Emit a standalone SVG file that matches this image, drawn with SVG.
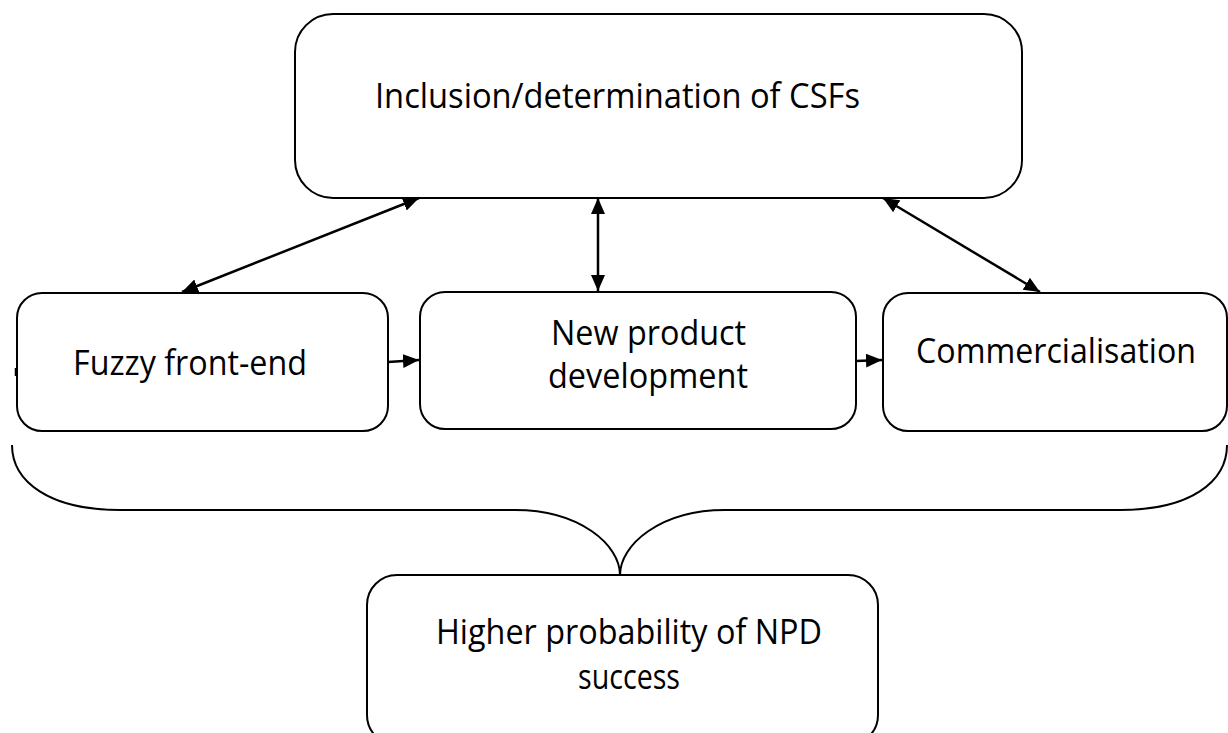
<svg xmlns="http://www.w3.org/2000/svg" width="1228" height="733" viewBox="0 0 1228 733">
  <style>
    .box { fill: #ffffff; stroke: #000000; stroke-width: 2; }
    .lbl { font-family: "Open Sans", "Liberation Sans", sans-serif; font-size: 35px; fill: #000000; text-anchor: middle; }
    .conn { fill: none; stroke: #000000; stroke-width: 2.5; }
    .brace { fill: none; stroke: #000000; stroke-width: 2; }
  </style>
  <defs>
    <marker id="arr" markerWidth="18" markerHeight="16" refX="16" refY="7" orient="auto-start-reverse" markerUnits="userSpaceOnUse">
      <path d="M0,0 L16,7 L0,14 z" fill="#000000"/>
    </marker>
  </defs>
  <rect width="1228" height="733" fill="#ffffff"/>

  <g id="node-csfs">
    <rect class="box" x="295" y="14" width="727" height="184" rx="38" ry="38"/>
    <text class="lbl" x="617.5" y="108" textLength="485" lengthAdjust="spacingAndGlyphs">Inclusion/determination of CSFs</text>
  </g>

  <g id="node-fuzzy">
    <rect class="box" x="17" y="293" width="371" height="138" rx="25" ry="25"/>
    <text class="lbl" x="190" y="375" textLength="234" lengthAdjust="spacingAndGlyphs">Fuzzy front-end</text>
  </g>

  <g id="node-npd">
    <rect class="box" x="420" y="292" width="436" height="137" rx="25" ry="25"/>
    <text class="lbl" x="648.5" y="345" textLength="195" lengthAdjust="spacingAndGlyphs">New product</text>
    <text class="lbl" x="648" y="388" textLength="200" lengthAdjust="spacingAndGlyphs">development</text>
  </g>

  <g id="node-comm">
    <rect class="box" x="883" y="293" width="344" height="138" rx="25" ry="25"/>
    <text class="lbl" x="1056" y="363" textLength="280" lengthAdjust="spacingAndGlyphs">Commercialisation</text>
  </g>

  <g id="node-success">
    <rect class="box" x="367" y="575" width="511" height="170" rx="30" ry="30"/>
    <text class="lbl" x="629" y="644" textLength="386" lengthAdjust="spacingAndGlyphs">Higher probability of NPD</text>
    <text class="lbl" x="629" y="689" textLength="102" lengthAdjust="spacingAndGlyphs">success</text>
  </g>

  <g id="connectors">
    <line class="conn" x1="182" y1="292" x2="419" y2="198" marker-start="url(#arr)" marker-end="url(#arr)"/>
    <line class="conn" x1="598" y1="198" x2="598" y2="291" marker-start="url(#arr)" marker-end="url(#arr)"/>
    <line class="conn" x1="883" y1="198" x2="1040" y2="292" marker-start="url(#arr)" marker-end="url(#arr)"/>
    <line class="conn" x1="388" y1="362" x2="419" y2="360" marker-end="url(#arr)"/>
    <line class="conn" x1="856" y1="361" x2="882" y2="360" marker-end="url(#arr)"/>
    <path class="brace" d="M12,445 C12,482 50,510 120,510 L515,510 C580,510 620,545 620,575 C620,545 660,510 725,510 L1120,510 C1190,510 1227,482 1227,445"/>
    <line x1="16" y1="368" x2="16" y2="376" stroke="#000000" stroke-width="2.5"/>
  </g>
</svg>
